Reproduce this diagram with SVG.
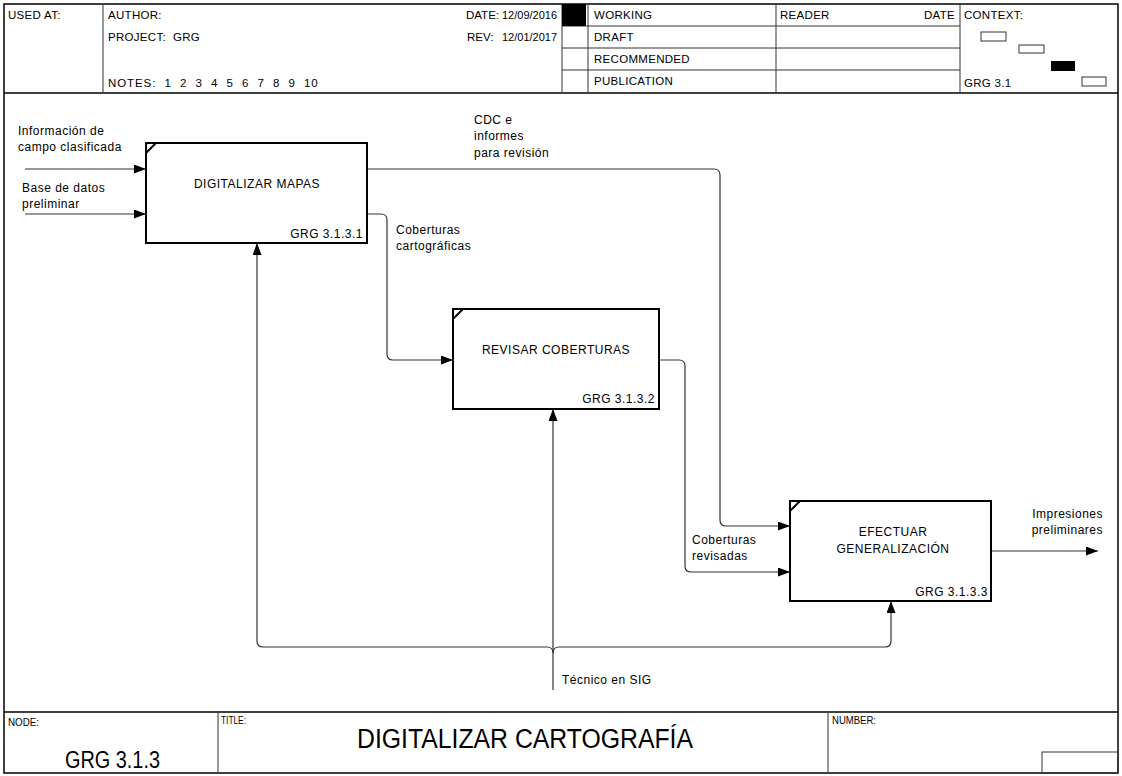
<svg xmlns="http://www.w3.org/2000/svg" width="1122" height="776" viewBox="0 0 1122 776">
<style>
text{font-family:"Liberation Sans",Arial,sans-serif;font-size:12px;fill:#000;letter-spacing:0.5px}
.hdr{font-size:11.5px;letter-spacing:0.3px}
.dt{font-size:11.5px;letter-spacing:0}
.ftl{font-size:11px;letter-spacing:0}
.big{font-size:27px;letter-spacing:0}
.node{font-size:23px;letter-spacing:0}
.frame{fill:none;stroke:#000;stroke-width:1.5}
.thin{fill:none;stroke:#333;stroke-width:1}
.box{fill:#fff;stroke:#000;stroke-width:2}
.conn{fill:none;stroke:#333;stroke-width:1.2}
.mid{text-anchor:middle}
.end{text-anchor:end}
</style>
<defs>
<marker id="arr" markerUnits="userSpaceOnUse" markerWidth="12" markerHeight="9" refX="12" refY="4.5" orient="auto">
<path d="M0,0 L12,4.5 L0,9 Z" fill="#000"/>
</marker>
</defs>
<rect width="1122" height="776" fill="#fff"/>
<g id="header">
<rect class="frame" x="4" y="4" width="1114" height="769"/>
<line class="frame" x1="4" y1="93" x2="1118" y2="93"/>
<line class="thin" x1="103" y1="4" x2="103" y2="93"/>
<line class="thin" x1="562" y1="4" x2="562" y2="93"/>
<line class="thin" x1="588" y1="4" x2="588" y2="93"/>
<line class="thin" x1="776" y1="4" x2="776" y2="93"/>
<line class="thin" x1="960" y1="4" x2="960" y2="93"/>
<line class="thin" x1="562" y1="26" x2="960" y2="26"/>
<line class="thin" x1="562" y1="48" x2="960" y2="48"/>
<line class="thin" x1="562" y1="70" x2="960" y2="70"/>
<rect x="562" y="4" width="24" height="22" fill="#000"/>
<text class="hdr" x="8" y="19">USED AT:</text>
<text class="hdr" x="108" y="19">AUTHOR:</text>
<text class="hdr" x="108" y="41" xml:space="preserve">PROJECT:  GRG</text>
<text class="hdr" x="108" y="87" xml:space="preserve" textLength="210">NOTES:  1  2  3  4  5  6  7  8  9  10</text>
<text class="dt" x="466" y="19">DATE:</text>
<text class="dt" x="502" y="19" textLength="55" lengthAdjust="spacingAndGlyphs">12/09/2016</text>
<text class="dt" x="467" y="41">REV:</text>
<text class="dt" x="502" y="41" textLength="55" lengthAdjust="spacingAndGlyphs">12/01/2017</text>
<text class="hdr" x="594" y="19">WORKING</text>
<text class="hdr" x="594" y="41">DRAFT</text>
<text class="hdr" x="594" y="63">RECOMMENDED</text>
<text class="hdr" x="594" y="85">PUBLICATION</text>
<text class="hdr" x="780" y="19">READER</text>
<text class="hdr end" x="955" y="19">DATE</text>
<text class="hdr" x="964" y="19">CONTEXT:</text>
<text class="hdr" x="964" y="87">GRG 3.1</text>
<rect class="thin" x="981" y="32" width="25" height="9"/>
<rect class="thin" x="1019" y="45" width="25" height="8"/>
<rect x="1051" y="61" width="24" height="10" fill="#000"/>
<rect class="thin" x="1082" y="77" width="24" height="9"/>
</g>
<g id="footer">
<line class="frame" x1="4" y1="712" x2="1118" y2="712"/>
<line class="thin" x1="218" y1="712" x2="218" y2="773"/>
<line class="thin" x1="828" y1="712" x2="828" y2="773"/>
<rect class="thin" x="1042" y="752" width="76" height="21"/>
<text class="ftl" x="8" y="726" textLength="31" lengthAdjust="spacingAndGlyphs">NODE:</text>
<text class="ftl" x="221" y="724" textLength="25" lengthAdjust="spacingAndGlyphs">TITLE:</text>
<text class="ftl" x="832" y="724" textLength="44" lengthAdjust="spacingAndGlyphs">NUMBER:</text>
<text class="node" x="65" y="768" textLength="95" lengthAdjust="spacingAndGlyphs">GRG 3.1.3</text>
<text class="big" x="357" y="748" textLength="336" lengthAdjust="spacingAndGlyphs">DIGITALIZAR CARTOGRAFÍA</text>
</g>
<g id="connectors">
<path class="conn" d="M25,169 H146" marker-end="url(#arr)"/>
<path class="conn" d="M25,214 H146" marker-end="url(#arr)"/>
<path class="conn" d="M367,169 H714 Q720,169 720,175 V520 Q720,526 726,526 H790" marker-end="url(#arr)"/>
<path class="conn" d="M367,214 H381 Q387,214 387,220 V354 Q387,360 393,360 H453" marker-end="url(#arr)"/>
<path class="conn" d="M659,360 H679 Q685,360 685,366 V566 Q685,572 691,572 H790" marker-end="url(#arr)"/>
<path class="conn" d="M991,551 H1098" marker-end="url(#arr)"/>
<path class="conn" d="M553,690 V409" marker-end="url(#arr)"/>
<path class="conn" d="M547,647 H263 Q257,647 257,641 V243" marker-end="url(#arr)"/>
<path class="conn" d="M559,647 H885 Q891,647 891,641 V601" marker-end="url(#arr)"/>
<path class="conn" d="M547,647 Q553,647 553,653 M559,647 Q553,647 553,653"/>
<text x="18" y="135">Información de</text>
<text x="18" y="151">campo clasificada</text>
<text x="22" y="192">Base de datos</text>
<text x="22" y="208">preliminar</text>
<text x="474" y="124">CDC e</text>
<text x="474" y="140">informes</text>
<text x="474" y="157">para revisión</text>
<text x="396" y="234">Coberturas</text>
<text x="396" y="250">cartográficas</text>
<text x="692" y="544">Coberturas</text>
<text x="692" y="560">revisadas</text>
<text class="end" x="1103" y="518">Impresiones</text>
<text class="end" x="1103" y="534">preliminares</text>
<text x="562" y="684">Técnico en SIG</text>
</g>
<g id="node1">
<rect class="box" x="146" y="143" width="221" height="100"/>
<line class="box" x1="146" y1="153" x2="156" y2="143"/>
<text class="mid" x="257" y="188">DIGITALIZAR MAPAS</text>
<text class="end" x="363" y="238">GRG 3.1.3.1</text>
</g>
<g id="node2">
<rect class="box" x="453" y="309" width="206" height="100"/>
<line class="box" x1="453" y1="319" x2="463" y2="309"/>
<text class="mid" x="556" y="354">REVISAR COBERTURAS</text>
<text class="end" x="655" y="403">GRG 3.1.3.2</text>
</g>
<g id="node3">
<rect class="box" x="790" y="501" width="201" height="100"/>
<line class="box" x1="790" y1="511" x2="800" y2="501"/>
<text class="mid" x="893" y="536">EFECTUAR</text>
<text class="mid" x="893" y="553">GENERALIZACIÓN</text>
<text class="end" x="988" y="596">GRG 3.1.3.3</text>
</g>
</svg>
